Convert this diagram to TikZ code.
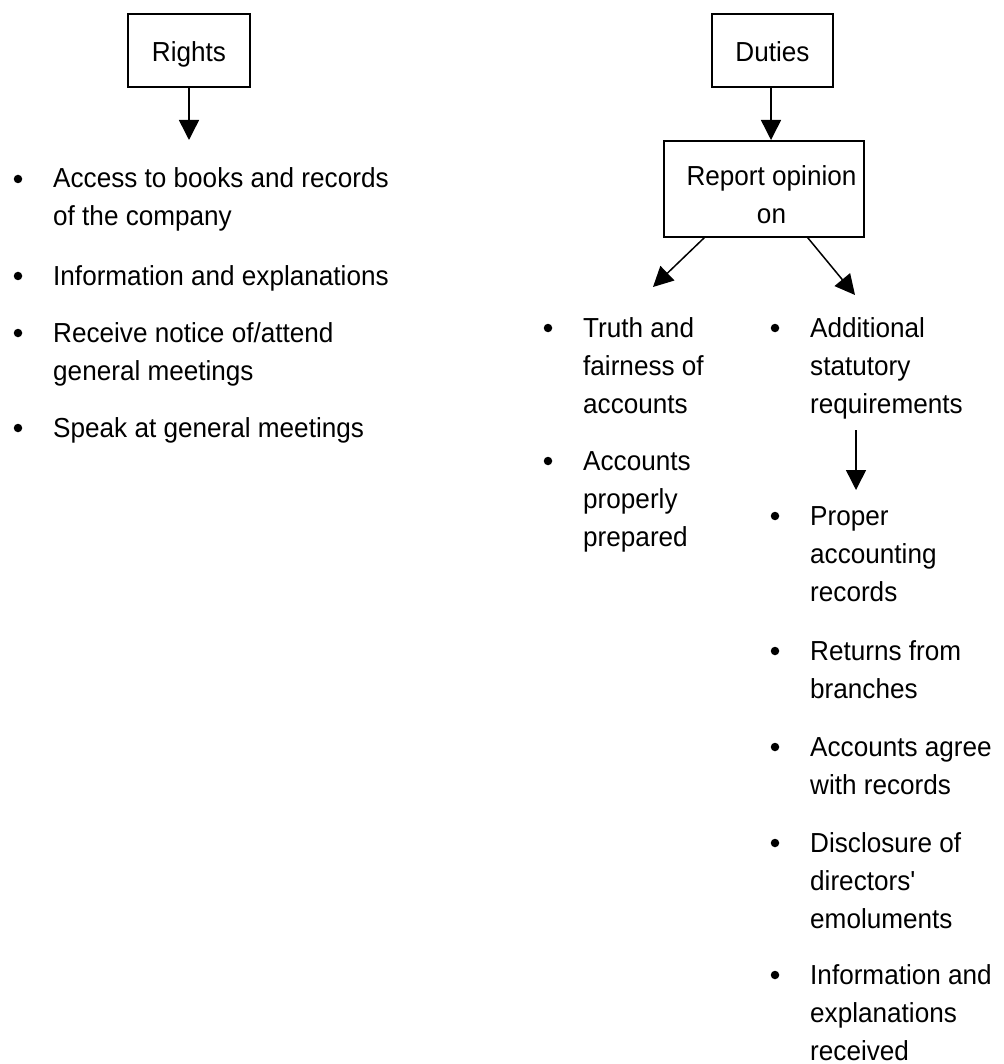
\documentclass[tikz,border=0pt]{standalone}
\usepackage{fontspec}
\setmainfont{Liberation Sans}[FakeStretch=0.95]
\usetikzlibrary{arrows.meta}

\begin{document}
\begin{tikzpicture}[
    x=1pt, y=-1pt,
    font=\fontsize{27.5}{38}\selectfont,
    >={Triangle[length=20pt, width=20pt]},
    box style/.style={draw, line width=1.5pt, rectangle, inner sep=0pt, text height=28pt, text depth=5pt},
    item style/.style={anchor=base west, align=left, inner sep=0pt},
    bullet style/.style={circle, fill, inner sep=0pt, minimum size=8.5pt},
    arrow style/.style={line width=1.5pt, ->}
]
\useasboundingbox (0,0) rectangle (1003,1064);

% Draw the boxes
\node[box style, minimum width=122pt, minimum height=73pt] (rights) at (189,50.5) {Rights};
\node[box style, minimum width=121pt, minimum height=73pt] (duties) at (772.5,50.5) {Duties};
\node[box style, minimum width=200pt, minimum height=96pt] (report) at (764,189) {};
\node[align=center, anchor=base, inner sep=0pt] (report text) at (771.5,224) {Report opinion\\on};

% Draw the lists with their bullets (first and last baseline)
\foreach \name/\x/\y/\last/\txt in {
    access/53/188/226/{Access to books and records\\of the company},
    information/53/285/285/{Information and explanations},
    notice/53/342/380/{Receive notice of/attend\\general meetings},
    speak/53/437/437/{Speak at general meetings},
    truth/583/337/413/{Truth and\\fairness of\\accounts},
    prepared/583/470/546/{Accounts\\properly\\prepared},
    extra/810/337/413/{Additional\\statutory\\requirements},
    proper/810/525/601/{Proper\\accounting\\records},
    returns/810/660/698/{Returns from\\branches},
    agree/810/756/794/{Accounts agree\\with records},
    disclosure/810/852/928/{Disclosure of\\directors\textquotesingle\\emoluments},
    received/810/984/1060/{Information and\\explanations\\received}} {
    \node[item style] (\name) at (\x,\last) {\txt};
    \node[bullet style] (\name bullet) at (\x-35,\y-9) {};
}

% Draw the arrows
\coordinate (rights end) at (189,140);
\coordinate (duties end) at (771,140);
\coordinate (truth end) at (653,287);
\coordinate (extra end) at (855,295);
\coordinate (proper start) at (856,430);
\coordinate (proper end) at (856,490);
\draw[arrow style] (rights) -- (rights end);
\draw[arrow style] (duties.south -| duties end) -- (duties end);
\draw[arrow style] ([xshift=41pt]report.south west) -- (truth end);
\draw[arrow style] ([xshift=-57pt]report.south east) -- (extra end);
\draw[arrow style] (proper start) -- (proper end);
\end{tikzpicture}
\end{document}
